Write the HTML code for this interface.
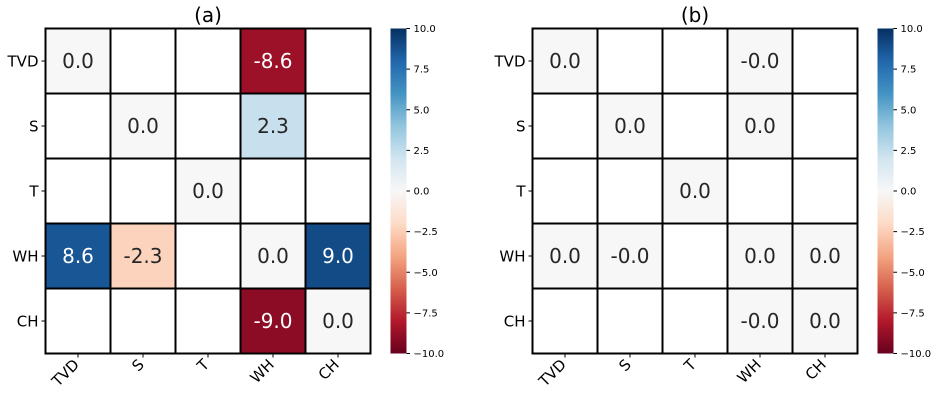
<!DOCTYPE html>
<html><head><meta charset="utf-8"><style>body{margin:0;background:#fff}svg{display:block;font-family:"DejaVu Sans","Liberation Sans",sans-serif}</style></head>
<body><svg id="c" width="938" height="401"></svg>
<script>
const labels=["TVD","S","T","WH","CH"];
const valuesA=[[0.0,null,null,-8.6,null],[null,0.0,null,2.3,null],[null,null,0.0,null,null],[8.6,-2.3,null,0.0,9.0],[null,null,null,-9.0,0.0]];
const textA=[["0.0","","","-8.6",""],["","0.0","","2.3",""],["","","0.0","",""],["8.6","-2.3","","0.0","9.0"],["","","","-9.0","0.0"]];
const valuesB=[[0,null,null,0,null],[null,0,null,0,null],[null,null,0,null,null],[0,0,null,0,0],[null,null,null,0,0]];
const textB=[["0.0","","","-0.0",""],["","0.0","","0.0",""],["","","0.0","",""],["0.0","-0.0","","0.0","0.0"],["","","","-0.0","0.0"]];
const cbTicks=[10,7.5,5,2.5,0,-2.5,-5,-7.5,-10];
const cbLabels=["10.0","7.5","5.0","2.5","0.0","\u22122.5","\u22125.0","\u22127.5","\u221210.0"];
const stops=["#67001f","#b2182b","#d6604d","#f4a582","#fddbc7","#f7f7f7","#d1e5f0","#92c5de","#4393c3","#2166ac","#053061"];
const NS="http://www.w3.org/2000/svg",svg=document.getElementById('c');
function el(t,a,p){const e=document.createElementNS(NS,t);for(const k in a)e.setAttribute(k,a[k]);(p||svg).appendChild(e);return e;}
function hx(h){return [1,3,5].map(i=>parseInt(h.substr(i,2),16));}
function cmap(v){let t=(v+10)/20*10;t=Math.max(0,Math.min(10,t));const i=Math.min(9,Math.floor(t)),f=t-i;const a=hx(stops[i]),b=hx(stops[i+1]);return "rgb("+a.map((x,k)=>Math.round(x+(b[k]-x)*f)).join(",")+")";}
const defs=el('defs',{});const lg=el('linearGradient',{id:'g',x1:0,y1:1,x2:0,y2:0},defs);
stops.forEach((s,i)=>el('stop',{offset:i/10,'stop-color':s},lg));
function panel(x0,vals,txt,title,id){
 const y0=28.5,cs=65,top=y0,bot=y0+5*cs;
 const g=el('g',{});
 const xs=c=>x0+c*cs, ys=r=>y0+r*cs;
 for(let r=0;r<5;r++)for(let c=0;c<5;c++){
  const v=vals[r][c];
  const rc=el('rect',{x:xs(c),y:ys(r),width:cs,height:cs,fill:v==null?'#fff':cmap(v),stroke:'#000','stroke-width':2},g);
  
  if(txt[r][c]){const t=el('text',{x:xs(c)+cs/2,y:ys(r)+cs/2+7,'text-anchor':'middle','font-size':20,fill:(v!=null&&Math.abs(v)>6)?'#fff':'#262626'},g);t.textContent=txt[r][c];
   }
 }
 const tt=el('text',{x:x0+2.5*cs,y:22,'text-anchor':'middle','font-size':20,fill:'#000'});tt.textContent=title;
 
 labels.forEach((l,i)=>{
  const cy=ys(i)+cs/2;el('line',{x1:x0-4,x2:x0,y1:cy,y2:cy,stroke:'#000'});
  const t=el('text',{x:x0-7,y:cy+5.5,'text-anchor':'end','font-size':15});t.textContent=l;
  
  const cx=xs(i)+cs/2;el('line',{x1:cx,x2:cx,y1:bot,y2:bot+4,stroke:'#000'});
  const u=el('text',{x:cx+2,y:bot+12,'text-anchor':'end','font-size':15,transform:`rotate(-45 ${cx+2} ${bot+12})`});u.textContent=l;
  
 });
 const cbx=x0+345,cbw=16;
 const cb=el('rect',{x:cbx,y:top,width:cbw,height:5*cs,fill:'url(#g)'});
 cbTicks.forEach((v,i)=>{const y=bot-(v+10)/20*5*cs;el('line',{x1:cbx+cbw,x2:cbx+cbw+3.5,y1:y,y2:y,stroke:'#000'});
  const t=el('text',{x:cbx+cbw+7,y:y+3.5,'font-size':10});t.textContent=cbLabels[i];});
}
panel(45.5,valuesA,textA,"(a)","a");
panel(532.5,valuesB,textB,"(b)","b");
</script></body></html>
